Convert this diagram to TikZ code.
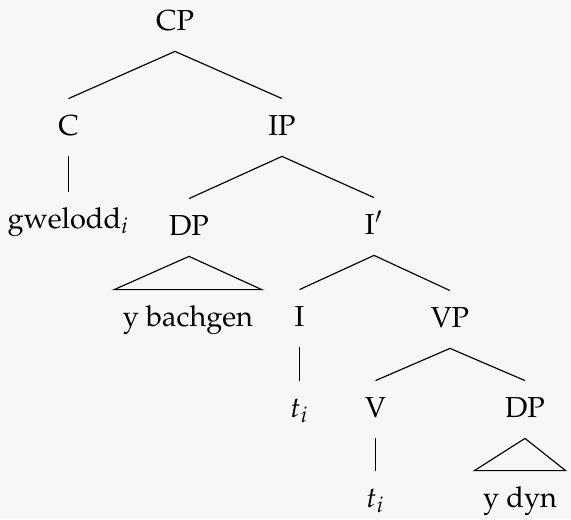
\documentclass[tikz,border=0pt]{standalone}
\usepackage[T1]{fontenc}
\usepackage{mathpazo}
\tikzset{
  cat/.style={anchor=base, inner xsep=2.8pt, inner ysep=0pt,
              text height=12.4pt, text depth=7.2pt},
}
\begin{document}
\begin{tikzpicture}[x=0.346pt, y=-0.346pt]
    \fill[black!3] (0,0) rectangle (571,519);
    \useasboundingbox (0,0) rectangle (571,519);
    % Level 1: CP
    \node[cat] (CP) at (175,30) {CP};
    % Level 2: C and IP
    \node[cat] (C) at (68.5,135) {C};
    \node[cat] (IP) at (282,135) {IP};
    \node[cat] (gwelodd) at (68.5,228) {gwelodd$_i$};
    % Level 3: subject DP and I'
    \node[cat] (DPsubj) at (189,235) {DP};
    \node[cat] (Ibar) at (374,234) {I$'$};
    % Level 4: I and VP
    \node[cat] (bachgen) at (188,326) {y bachgen};
    \node[cat] (I) at (299.5,326) {I};
    \node[cat] (VP) at (450,327) {VP};
    % Level 5: traces, V and object DP
    \node[cat] (traceI) at (299.5,417) {$t_i$};
    \node[cat] (V) at (375.5,417) {V};
    \node[cat] (DPobj) at (525,417) {DP};
    \node[cat] (traceV) at (375.5,507) {$t_i$};
    \node[cat] (dyn) at (520,507) {y dyn};
    % Branches
    \draw (CP.south) -- (C.north);
    \draw (CP.south) -- (IP.north);
    \draw (C.south) -- (gwelodd.north);
    \draw (IP.south) -- (DPsubj.north);
    \draw (IP.south) -- (Ibar.north);
    \draw (Ibar.south) -- (I.north);
    \draw (Ibar.south) -- (VP.north);
    \draw (I.south) -- (traceI.north);
    \draw (VP.south) -- (V.north);
    \draw (VP.south) -- (DPobj.north);
    \draw (V.south) -- (traceV.north);
    % Triangles over unanalysed DPs
    \draw (DPsubj.south) -- (bachgen.north west) -- (bachgen.north east) -- cycle;
    \draw (DPobj.south) -- (dyn.north west) -- (dyn.north east) -- cycle;
\end{tikzpicture}
\end{document}
